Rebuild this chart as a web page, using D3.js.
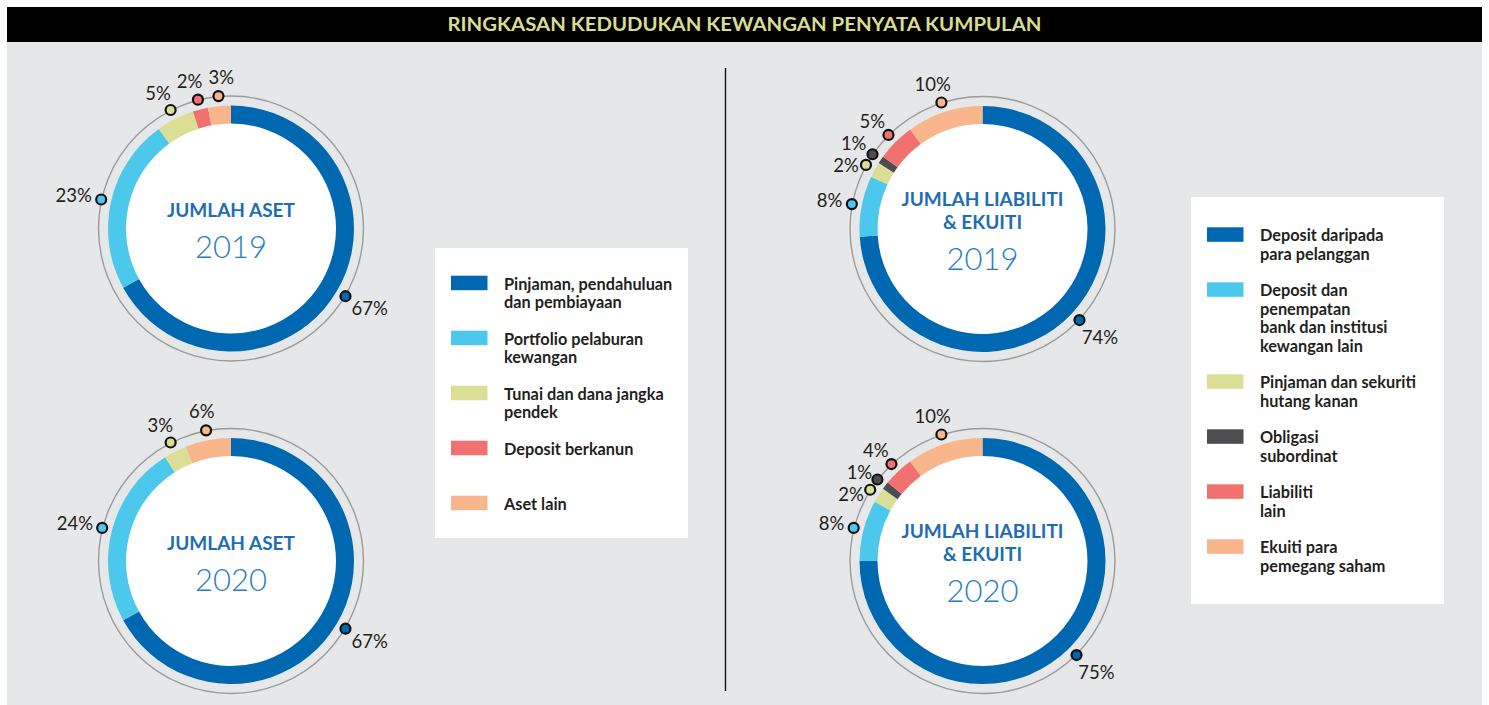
<!DOCTYPE html>
<html>
<head>
<meta charset="utf-8">
<script src="https://cdn.jsdelivr.net/npm/d3@7"></script>
<style>
  html, body { margin: 0; padding: 0; background: #ffffff; }
  svg { display: block; font-family: Lato, "Open Sans", sans-serif; }
</style>
</head>
<body>
<svg id="chart" width="1489" height="705"></svg>
<script>
// ---------- DATA ----------
const chartTitle = "RINGKASAN KEDUDUKAN KEWANGAN PENYATA KUMPULAN";

const assetCategories = [
  ["Pinjaman, pendahuluan", "dan pembiayaan"],
  ["Portfolio pelaburan", "kewangan"],
  ["Tunai dan dana jangka", "pendek"],
  ["Deposit berkanun"],
  ["Aset lain"]
];
const assetColors = ["#0068b1", "#4cc8ed", "#dbdf96", "#f17170", "#f9b68c"];
const assets2019 = [67, 23, 5, 2, 3];
const assets2020 = [67, 24, 3, 0, 6];

const liabCategories = [
  ["Deposit daripada", "para pelanggan"],
  ["Deposit dan", "penempatan", "bank dan institusi", "kewangan lain"],
  ["Pinjaman dan sekuriti", "hutang kanan"],
  ["Obligasi", "subordinat"],
  ["Liabiliti", "lain"],
  ["Ekuiti para", "pemegang saham"]
];
const liabColors = ["#0068b1", "#4cc8ed", "#dbdf96", "#4d4d4f", "#f17170", "#f9b68c"];
const liab2019 = [74, 8, 2, 1, 5, 10];
const liab2020 = [75, 8, 2, 1, 4, 10];

const assetTitle = ["JUMLAH ASET"];
const liabTitle = ["JUMLAH LIABILITI", "& EKUITI"];
const years = ["2019", "2020"];

// ---------- LAYOUT ----------
const svg = d3.select("#chart");

svg.append("rect").attr("x", 7).attr("y", 42).attr("width", 1475).attr("height", 663).attr("fill", "#e6e7e8");
svg.append("rect").attr("x", 7).attr("y", 7).attr("width", 1475).attr("height", 35).attr("fill", "#000");
svg.append("text")
  .attr("x", 744.5).attr("y", 31)
  .attr("text-anchor", "middle")
  .attr("font-size", 19).attr("font-weight", 700)
  .attr("fill", "#d8dd8e")
  .attr("textLength", 594).attr("lengthAdjust", "spacingAndGlyphs")
  .text(chartTitle);

svg.append("line").attr("x1", 725.5).attr("x2", 725.5).attr("y1", 68).attr("y2", 691)
  .attr("stroke", "#111").attr("stroke-width", 1.4);

const R_IN = 105, R_OUT = 123, R_RING = 132.5, R_DOT = 133;
const arc = d3.arc().innerRadius(R_IN).outerRadius(R_OUT);
const pie = d3.pie().sort(null).value(d => d);

function drawDonut(cx, cy, values, colors, titleLines, year) {
  const color = d3.scaleOrdinal().domain(d3.range(values.length)).range(colors);
  const g = svg.append("g").attr("transform", `translate(${cx},${cy})`);
  g.append("circle").attr("r", R_RING).attr("fill", "none").attr("stroke", "#9b9b9b").attr("stroke-width", 1.4);
  g.append("circle").attr("r", R_IN + 0.5).attr("fill", "#fff");
  const arcs = pie(values);
  g.selectAll("path.slice").data(arcs).join("path")
    .attr("class", "slice")
    .attr("d", arc)
    .attr("fill", (d, i) => color(i));

  const shown = arcs.map((d, i) => ({ d, i })).filter(o => o.d.value > 0);
  shown.forEach(o => {
    const a = (o.d.startAngle + o.d.endAngle) / 2;
    o.a = a;
    o.ux = Math.sin(a); o.uy = -Math.cos(a);
    o.dx = o.ux * R_DOT; o.dy = o.uy * R_DOT;
  });
  // labels
  const labels = shown.map(o => {
    const t = g.append("text")
      .attr("font-size", 18.5).attr("fill", "#231f20")
      .attr("text-anchor", "middle")
      .text(o.d.value + "%");
    const w = t.node().getComputedTextLength();
    const gap = 10;
    const x = o.dx + o.ux * (gap + w / 2);
    const y = o.dy + o.uy * (gap + 9) + Math.max(0, o.uy) * 6;
    return { t, x, y, w, h: 18, o };
  });
  // collision resolution
  for (let k = 0; k < 6; k++) {
    for (let i = 0; i < labels.length; i++) {
      for (let j = i + 1; j < labels.length; j++) {
        const A = labels[i], B = labels[j];
        const ox = (A.w + B.w) / 2 + 6 - Math.abs(A.x - B.x);
        const oy = (A.h + B.h) / 2 + 4 - Math.abs(A.y - B.y);
        if (ox > 0 && oy > 0) {
          if (ox < oy) {
            const s = A.x < B.x ? -1 : 1;
            A.x += s * ox / 2; B.x -= s * ox / 2;
          } else {
            const low = A.o.a < B.o.a ? A : B;
            const other = low === A ? B : A;
            low.y += (low.y >= other.y ? 1 : -1) * oy;
          }
        }
      }
    }
  }
  labels.forEach(L => L.t.attr("x", L.x).attr("y", L.y + 6.5));

  g.selectAll("circle.dot").data(shown).join("circle")
    .attr("class", "dot")
    .attr("cx", o => o.dx).attr("cy", o => o.dy)
    .attr("r", 5)
    .attr("fill", o => color(o.i))
    .attr("stroke", "#111").attr("stroke-width", 2.2);

  // center text
  const n = titleLines.length;
  const first = 2 - ((n - 1) * 23 + 55) / 2 + 14;
  titleLines.forEach((line, i) => {
    g.append("text").attr("x", 0).attr("y", first + i * 23)
      .attr("text-anchor", "middle")
      .attr("font-size", 19).attr("font-weight", 700)
      .attr("fill", "#1e6db3")
      .text(line);
  });
  g.append("text").attr("x", 0).attr("y", first + (n - 1) * 23 + 41)
    .attr("text-anchor", "middle")
    .attr("font-size", 31).attr("font-weight", 300)
    .attr("fill", "#2a7dc2")
    .text(year);
}

drawDonut(231, 228.5, assets2019, assetColors, assetTitle, years[0]);
drawDonut(231, 561, assets2020, assetColors, assetTitle, years[1]);
drawDonut(982.5, 229, liab2019, liabColors, liabTitle, years[0]);
drawDonut(982.5, 561, liab2020, liabColors, liabTitle, years[1]);

function drawLegend(x, y, w, h, firstTop, cats, colors) {
  const color = d3.scaleOrdinal().domain(d3.range(cats.length)).range(colors);
  const g = svg.append("g");
  g.append("rect").attr("x", x).attr("y", y).attr("width", w).attr("height", h).attr("fill", "#fff");
  let top = firstTop;
  cats.forEach((lines, i) => {
    g.append("rect").attr("x", x + 16).attr("y", top).attr("width", 36.5).attr("height", 14.5)
      .attr("fill", color(i));
    lines.forEach((ln, j) => {
      g.append("text").attr("x", x + 69).attr("y", top + 14 + j * 18.5)
        .attr("font-size", 16.3).attr("font-weight", 700).attr("fill", "#231f20")
        .text(ln);
    });
    top += 18.5 * Math.max(lines.length, 2) + 18;
  });
}

drawLegend(435, 248, 253, 290, 275.7, assetCategories, assetColors);
drawLegend(1191, 197, 253, 407, 227.3, liabCategories, liabColors);
</script>
</body>
</html>
